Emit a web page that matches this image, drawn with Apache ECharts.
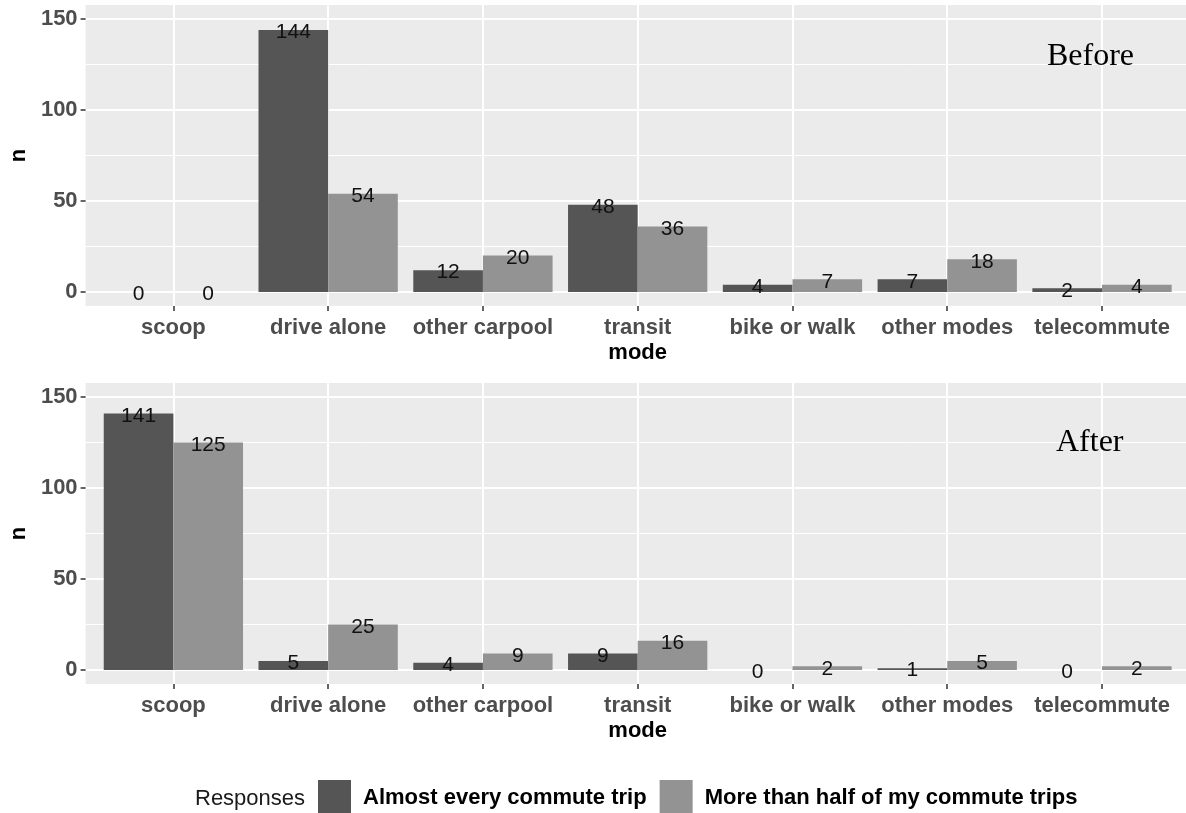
<!DOCTYPE html>
<html><head><meta charset="utf-8">
<script src="https://cdn.jsdelivr.net/npm/echarts@6/dist/echarts.min.js"></script>
<style>html,body{margin:0;padding:0;background:#fff}#c{width:1186px;height:813px}</style>
</head><body><div id="c"></div>
<script>
const categories = ['scoop','drive alone','other carpool','transit','bike or walk','other modes','telecommute'];
const seriesNames = ['Almost every commute trip','More than half of my commute trips'];
const beforeAlmost = [0,144,12,48,4,7,2];
const beforeMore = [0,54,20,36,7,18,4];
const afterAlmost = [141,5,4,9,0,1,0];
const afterMore = [125,25,9,16,2,5,2];
const yTicks = [0,50,100,150];
const panelLabels = ['Before','After'];
const legendTitle = 'Responses';
const xTitle = 'mode';
const yTitle = 'n';

const colors = ['#555555','#939393'];
const SANS = 'Liberation Sans, Arial, sans-serif';
const SERIF = 'Liberation Serif, Times New Roman, serif';
const panelTops = [5, 383];
const panelH = 301;
const yMin = -7.7, yMax = 157.7;
const panelData = [[beforeAlmost, beforeMore],[afterAlmost, afterMore]];

const grid = [], xAxis = [], yAxis = [], series = [];
panelTops.forEach((top, p) => {
  grid.push({left: 82, right: 0, top: top, height: panelH, show: true, backgroundColor: '#EBEBEB', borderWidth: 0});
  grid.push({left: 96, right: 6.6, top: top, height: panelH});
  const bg = p * 2, dg = p * 2 + 1;
  xAxis.push({gridIndex: bg, type: 'value', show: false, min: 0, max: 1});
  xAxis.push({
    gridIndex: dg, type: 'category', data: categories, position: 'bottom',
    axisLine: {show: false, onZero: false},
    axisTick: {show: true, alignWithLabel: true, interval: 0, length: 5, lineStyle: {color: '#333', width: 1.5}},
    axisLabel: {interval: 0, color: '#4D4D4D', fontWeight: 'bold', fontSize: 22, fontFamily: SANS, margin: 11},
    splitLine: {show: true, alignWithLabel: true, interval: 0, lineStyle: {color: '#fff', width: 2}},
    name: xTitle, nameLocation: 'middle', nameGap: 36,
    nameTextStyle: {color: '#000', fontWeight: 'bold', fontSize: 22, fontFamily: SANS}
  });
  yAxis.push({
    gridIndex: bg, type: 'value', min: yMin, max: yMax, splitNumber: 3, minInterval: 50, maxInterval: 50,
    axisLine: {show: false, onZero: false},
    axisTick: {show: true, length: 5, customValues: yTicks, lineStyle: {color: '#333', width: 1.5}},
    axisLabel: {customValues: yTicks, color: '#4D4D4D', fontWeight: 'bold', fontSize: 22, fontFamily: SANS, margin: 8},
    splitLine: {show: true, lineStyle: {color: '#fff', width: 2}},
    minorTick: {show: false, splitNumber: 2},
    minorSplitLine: {show: true, lineStyle: {color: '#fff', width: 1}},
    name: yTitle, nameLocation: 'middle', nameGap: 53, nameRotate: 90,
    nameTextStyle: {color: '#000', fontWeight: 'bold', fontSize: 22, fontFamily: SANS}
  });
  yAxis.push({gridIndex: dg, type: 'value', show: false, min: yMin, max: yMax});
  panelData[p].forEach((vals, s) => {
    series.push({
      type: 'bar', name: seriesNames[s], xAxisIndex: dg, yAxisIndex: dg,
      data: vals, barGap: '0%', barCategoryGap: '10%',
      itemStyle: {color: colors[s]},
      label: {show: true, position: 'top', distance: -13, color: '#111', fontSize: 21, fontFamily: SANS},
      emphasis: {disabled: true}
    });
  });
});

const chart = echarts.init(document.getElementById('c'), null, {renderer: 'canvas'});
chart.setOption({
  animation: false,
  backgroundColor: '#fff',
  color: colors,
  title: [
    {text: legendTitle, left: 195, top: 788, padding: 0, textStyle: {fontSize: 22, fontWeight: 'normal', color: '#1a1a1a', fontFamily: SANS}},
    {text: panelLabels[0], left: 1047, top: 41, padding: 0, textStyle: {fontSize: 32, fontWeight: 'normal', color: '#000', fontFamily: SERIF}},
    {text: panelLabels[1], left: 1056, top: 427, padding: 0, textStyle: {fontSize: 32, fontWeight: 'normal', color: '#000', fontFamily: SERIF}}
  ],
  legend: {
    data: seriesNames, left: 318, top: 780, padding: 0, itemWidth: 33, itemHeight: 36, itemGap: 13,
    icon: 'rect', selectedMode: false,
    textStyle: {fontSize: 22, fontWeight: 'bold', color: '#000', fontFamily: SANS, padding: [0, 0, 0, 7]}
  },
  grid, xAxis, yAxis, series
});
</script></body></html>
